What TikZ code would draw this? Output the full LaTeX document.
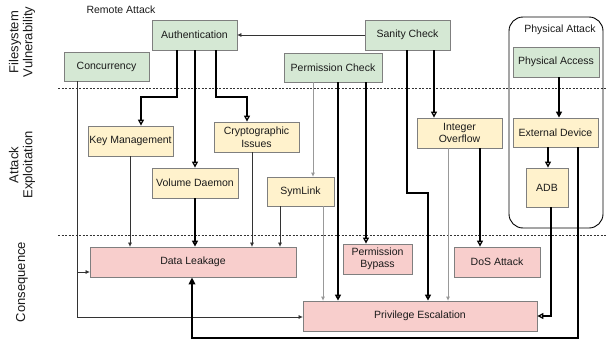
\documentclass[tikz,border=0pt]{standalone}
\usepackage{fontspec}
\setmainfont{Liberation Sans}
\usetikzlibrary{arrows.meta}
\definecolor{gfill}{HTML}{D5E8D4}
\definecolor{yfill}{HTML}{FFF2CC}
\definecolor{pfill}{HTML}{F8CECC}
\definecolor{bordc}{HTML}{7F7F7F}
\definecolor{txtc}{HTML}{1A1A1A}
\definecolor{dkline}{HTML}{333333}
\definecolor{gyline}{HTML}{999999}
\tikzset{
  box/.style={draw=bordc, line width=0.8pt, inner sep=0pt, align=center,
    font=\fontsize{10.5}{12.5}\selectfont, text=txtc},
  gbox/.style={box, fill=gfill},
  ybox/.style={box, fill=yfill},
  pbox/.style={box, fill=pfill},
  thinarr/.style={draw=dkline, line width=0.7pt, -{Triangle[length=4pt,width=3.5pt]}},
  grayarr/.style={draw=gyline, line width=0.9pt, -{Triangle[length=4pt,width=3.5pt]}},
  openarr/.style={draw=black, line width=1.3pt, -{Triangle[open,length=6pt,width=6pt]}},
  thickopen/.style={draw=black, line width=1.8pt, -{Triangle[open,length=6pt,width=6pt]}},
  thickfill/.style={draw=black, line width=2pt, -{Triangle[length=6pt,width=6pt]}},
  bigarr/.style={draw=black, line width=2.6pt, -{Triangle[length=7pt,width=6.5pt]}},
  sep/.style={draw=dkline, line width=0.6pt, dash pattern=on 2pt off 1.5pt},
  lane/.style={rotate=90, align=center, font=\fontsize{13}{14}\selectfont, text=txtc},
}
\begin{document}
\begin{tikzpicture}[x=1pt,y=-1pt]
\useasboundingbox (0,0) rectangle (606,343);
% lane labels and separators
\node[lane] (l1) at (22,42) {Filesystem\\Vulnerability};
\node[lane] (l2) at (22,165) {Attack\\Exploitation};
\node[lane] (l3) at (22,282) {Consequence};
\coordinate (s1a) at (58,88); \coordinate (s1b) at (606,88);
\coordinate (s2a) at (58,235); \coordinate (s2b) at (606,235);
\draw[sep] (s1a) -- (s1b);
\draw[sep] (s2a) -- (s2b);
% physical attack container
\draw[line width=0.9pt, rounded corners=14pt] (509,17) rectangle (603,228);
\node[font=\fontsize{10.5}{12}\selectfont, text=txtc] (phys) at (560,30) {Physical Attack};
\node[font=\fontsize{10.5}{12}\selectfont, text=txtc] (remote) at (121,10) {Remote Attack};
% vulnerability boxes
\node[gbox, minimum width=85pt, minimum height=30pt] (auth) at (194.5,35) {Authentication};
\node[gbox, minimum width=85pt, minimum height=29pt] (conc) at (106.5,66.5) {Concurrency};
\node[gbox, minimum width=98pt, minimum height=29pt] (perm) at (333,67.5) {Permission Check};
\node[gbox, minimum width=85pt, minimum height=30pt] (sanity) at (407.5,35) {Sanity Check};
\node[gbox, minimum width=86pt, minimum height=30pt] (pacc) at (556,62) {Physical Access};
% exploitation boxes
\node[ybox, minimum width=85pt, minimum height=29pt] (ext) at (555.5,132.5) {External Device};
\node[ybox, minimum width=42pt, minimum height=39pt] (adb) at (547,187.5) {ADB};
\node[ybox, minimum width=85pt, minimum height=30pt] (intov) at (459.5,133) {Integer\\Overflow};
\node[ybox, minimum width=85pt, minimum height=30pt] (key) at (130.5,141) {Key Management};
\node[ybox, minimum width=86pt, minimum height=30pt] (vol) at (195,183) {Volume Daemon};
\node[ybox, minimum width=85pt, minimum height=30pt] (crypto) at (256.5,137) {Cryptographic\\Issues};
\node[ybox, minimum width=67pt, minimum height=29pt] (sym) at (300.5,191.5) {SymLink};
% consequence boxes
\node[pbox, minimum width=206pt, minimum height=30pt] (dl) at (193,262) {Data Leakage};
\node[pbox, minimum width=69pt, minimum height=30pt] (pb) at (377.5,259) {Permission\\Bypass};
\node[pbox, minimum width=86pt, minimum height=30pt] (dos) at (497,262) {DoS Attack};
\node[pbox, minimum width=234pt, minimum height=30pt] (pe) at (420,316) {Privilege Escalation};
% connectors
\draw[thinarr] (sanity.west) -- (auth.east);
\draw[openarr] (177,0 |- auth.south) |- (141,97) -- (141,0 |- key.north);
\draw[openarr] (195,0 |- auth.south) -- (195,0 |- vol.north);
\draw[openarr] (216,0 |- auth.south) |- (247,97) -- (247,0 |- crypto.north);
\draw[thinarr] (77,0 |- conc.south) |- (dl.west |- 0,272);
\draw[thinarr] (77,0 |- conc.south) |- (pe.west |- 0,317);
\draw[thinarr] (130,0 |- key.south) -- (130,0 |- dl.north);
\draw[thickopen] (195,0 |- vol.south) -- (195,0 |- dl.north);
\draw[thinarr] (252,0 |- crypto.south) -- (252,0 |- dl.north);
\draw[thinarr] (280,0 |- sym.south) -- (280,0 |- dl.north);
\draw[grayarr] (323,0 |- sym.south) -- (323,0 |- pe.north);
\draw[grayarr] (313,0 |- perm.south) -- (313,0 |- sym.north);
\draw[thickopen] (338,0 |- perm.south) -- (338,0 |- pe.north);
\draw[openarr] (366,0 |- perm.south) -- (366,0 |- pb.north);
\draw[thickopen] (407,0 |- sanity.south) |- (428,193) -- (428,0 |- pe.north);
\draw[openarr] (434,0 |- sanity.south) -- (434,0 |- intov.north);
\draw[grayarr] (448,0 |- intov.south) -- (448,0 |- pe.north);
\draw[openarr] (480,0 |- intov.south) -- (480,0 |- dos.north);
\draw[thickfill] (559,0 |- pacc.south) -- (559,0 |- ext.north);
\draw[openarr] (548,0 |- ext.south) -- (548,0 |- adb.north);
\draw[openarr] (551,0 |- adb.south) |- (pe.east |- 0,316);
\draw[bigarr] (578,0 |- ext.south) |- (192,338) -- (192,0 |- dl.south);
\end{tikzpicture}
\end{document}
